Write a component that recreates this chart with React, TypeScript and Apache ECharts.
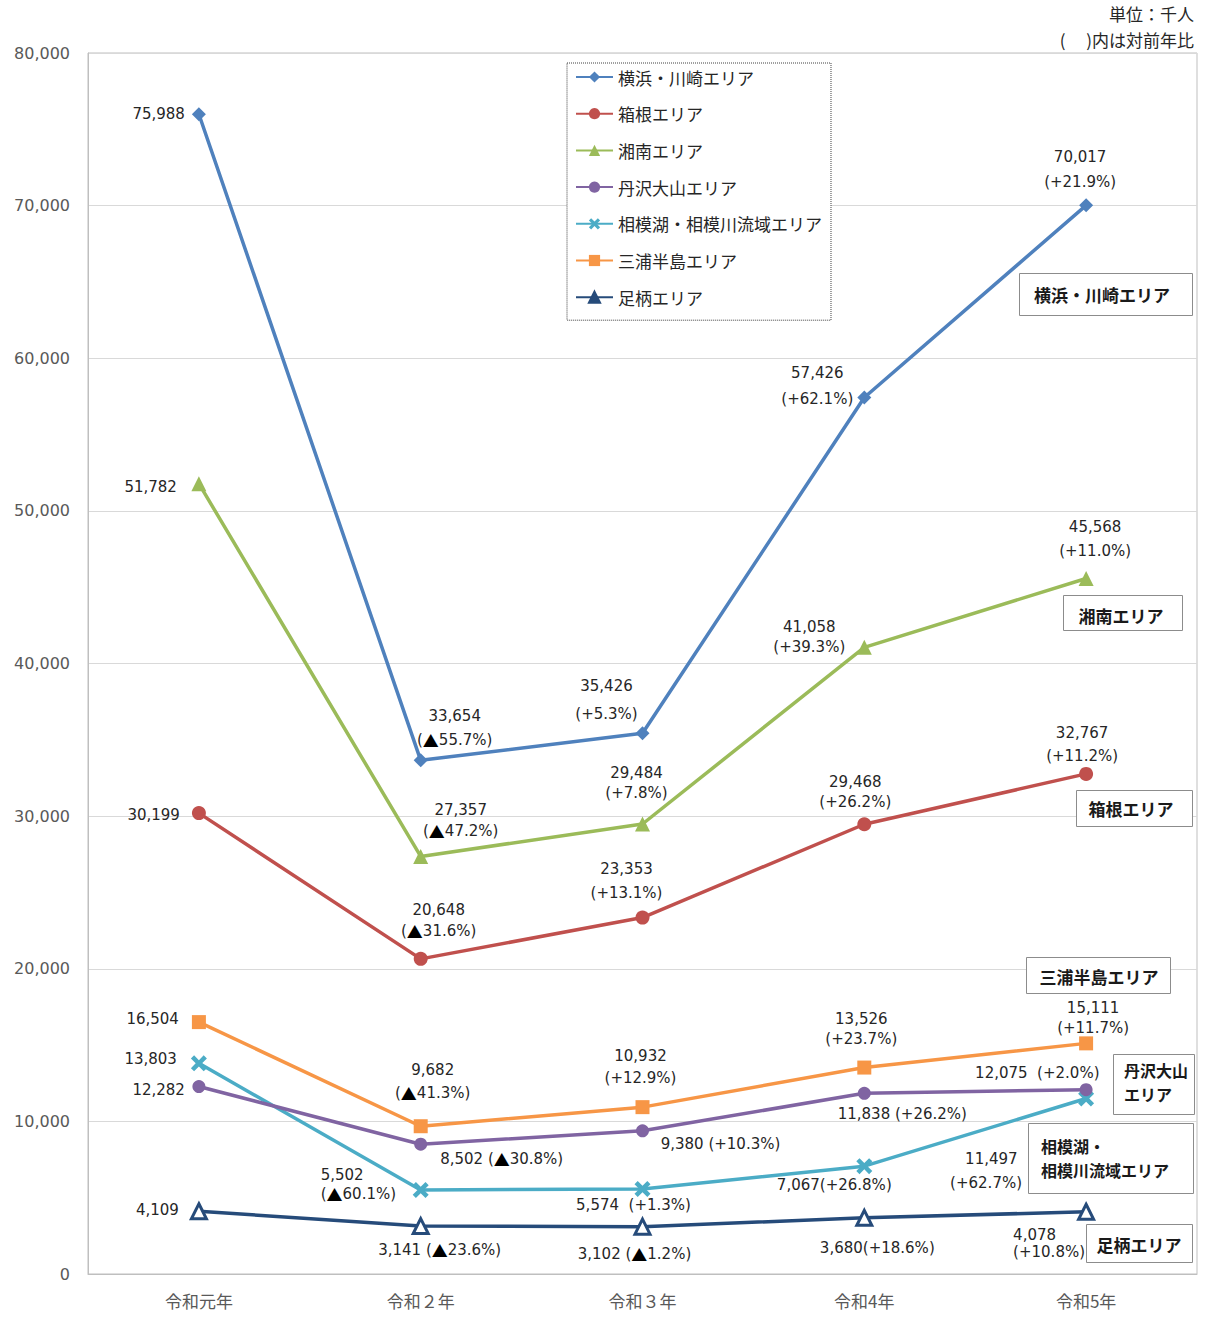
import React, { useEffect, useRef } from "react";
import * as echarts from "echarts";

const categories = ["令和元年", "令和２年", "令和３年", "令和4年", "令和5年"];
const yTicks = [0, 10000, 20000, 30000, 40000, 50000, 60000, 70000, 80000];

const seriesNames = [
  "横浜・川崎エリア",
  "箱根エリア",
  "湘南エリア",
  "丹沢大山エリア",
  "相模湖・相模川流域エリア",
  "三浦半島エリア",
  "足柄エリア",
];

const yokohama = [75988, 33654, 35426, 57426, 70017];
const hakone = [30199, 20648, 23353, 29468, 32767];
const shonan = [51782, 27357, 29484, 41058, 45568];
const tanzawa = [12282, 8502, 9380, 11838, 12075];
const sagamiko = [13803, 5502, 5574, 7067, 11497];
const miura = [16504, 9682, 10932, 13526, 15111];
const ashigara = [4109, 3141, 3102, 3680, 4078];

const yokohamaYoY = ["", "▲55.7%", "+5.3%", "+62.1%", "+21.9%"];
const hakoneYoY = ["", "▲31.6%", "+13.1%", "+26.2%", "+11.2%"];
const shonanYoY = ["", "▲47.2%", "+7.8%", "+39.3%", "+11.0%"];
const tanzawaYoY = ["", "▲30.8%", "+10.3%", "+26.2%", "+2.0%"];
const sagamikoYoY = ["", "▲60.1%", "+1.3%", "+26.8%", "+62.7%"];
const miuraYoY = ["", "▲41.3%", "+12.9%", "+23.7%", "+11.7%"];
const ashigaraYoY = ["", "▲23.6%", "▲1.2%", "+18.6%", "+10.8%"];

const unitLines = ["単位：千人", "(\u3000 )内は対前年比"];

// label layout (style only): [dx, dy, align, lineHeight, separator, firstLineIndent]
type LL = [number, number, string, number, string, number?];
const layouts: LL[][] = [
  [[-14, 0, "right", 20, ""], [34, -32, "center", 24, "\n"], [-36, -33, "center", 28, "\n"], [-47, -12, "center", 26, "\n"], [-6, -36, "center", 25, "\n"]],
  [[-19, 2, "right", 20, ""], [18, -38, "center", 21, "\n"], [-16, -37, "center", 24, "\n"], [-9, -32, "center", 20, "\n"], [-4, -29, "center", 23, "\n"]],
  [[-22, 3, "right", 20, ""], [40, -36, "center", 21, "\n"], [-6, -41, "center", 20, "\n"], [-55, -10, "center", 20, "\n"], [9, -40, "center", 24, "\n"]],
  [[-14, 3, "right", 20, ""], [81, 15, "center", 20, " "], [78, 13, "center", 20, " "], [38, 21, "center", 20, " "], [-111, -17, "left", 20, "  "]],
  [[-22, -4, "right", 20, ""], [-100, -6, "left", 19, "\n"], [-9, 16, "center", 20, "  "], [-30, 19, "center", 20, ""], [-136, 72, "left", 24, "\n", 15]],
  [[-20, -3, "right", 20, ""], [12, -45, "center", 23, "\n"], [-2, -40, "center", 22, "\n"], [-3, -39, "center", 20, "\n"], [7, -25, "center", 20, "\n"]],
  [[-20, -1, "right", 20, ""], [19, 24, "center", 20, " "], [-8, 27, "center", 20, " "], [13, 30, "center", 20, ""], [-73, 32, "left", 17, "\n"]],
];

const seriesValues = [yokohama, hakone, shonan, tanzawa, sagamiko, miura, ashigara];
const seriesYoY = [yokohamaYoY, hakoneYoY, shonanYoY, tanzawaYoY, sagamikoYoY, miuraYoY, ashigaraYoY];
const colors = ["#4f81bd", "#c0504d", "#9bbb59", "#8064a2", "#4bacc6", "#f79646", "#264b7a"];
const crossPath =
  "path://M0,2 L2,0 L5,3 L8,0 L10,2 L7,5 L10,8 L8,10 L5,7 L2,10 L0,8 L3,5 Z";
const symbols = ["diamond", "circle", "triangle", "circle", crossPath, "rect", "triangle"];
const symbolSizes = [14, 14, 15, 13, 16, 14, 15];

// area name boxes: [text, rect x, y, w, h, text x, first line y, align]
const nameBoxes: [string, number, number, number, number, number, number, string][] = [
  ["横浜・川崎エリア", 1019, 273, 173, 42, 1102, 294, "center"],
  ["湘南エリア", 1063, 595, 119, 35, 1121, 615, "center"],
  ["箱根エリア", 1076, 790, 116, 36, 1131, 808, "center"],
  ["三浦半島エリア", 1026, 957, 144, 36, 1099, 976, "center"],
  ["丹沢大山\nエリア", 1113, 1054, 81, 60, 1124, 1070, "left"],
  ["相模湖・\n相模川流域エリア", 1028, 1123, 165, 70, 1041, 1146, "left"],
  ["足柄エリア", 1086, 1224, 106, 38, 1139, 1244, "center"],
];
const boxLineGap = 24;

const NUM_FONT = '"DejaVu Sans", "Noto Sans CJK JP", sans-serif';
const JP_FONT = '"Noto Sans CJK JP", sans-serif';

const fmt = (v: number) => v.toLocaleString("en-US");

export default function App() {
  const ref = useRef<HTMLDivElement>(null);
  useEffect(() => {
    document.body.style.margin = "0";
    if (!ref.current) return;
    const chart = echarts.init(ref.current, null, { renderer: "svg" });

    const series = seriesNames.map((name, si) => ({
      name,
      type: "line",
      symbol: symbols[si],
      symbolSize: symbolSizes[si],
      lineStyle: { width: 3.5, color: colors[si] },
      itemStyle:
        si === 6
          ? { color: "#ffffff", borderColor: colors[si], borderWidth: 3 }
          : { color: colors[si], borderWidth: 0 },
      emphasis: { disabled: true },
      z: 2 + (7 - si),
      data: seriesValues[si].map((v, i) => {
        const [dx, dy, align, lh, sep, indent] = layouts[si][i];
        const yoy = seriesYoY[si][i];
        const first = indent ? "{p|" + fmt(v) + "}" : fmt(v);
        const raw = first + (yoy ? sep + "(" + yoy + ")" : "");
        const text = raw.replace("▲", "{t|▲}");
        return {
          value: v,
          label: {
            show: true,
            position: "inside",
            offset: [dx, dy],
            align,
            verticalAlign: "middle",
            lineHeight: lh,
            fontSize: 15,
            fontFamily: NUM_FONT,
            color: "#262626",
            rich: {
              t: {
                fontFamily: JP_FONT,
                fontSize: 16,
                lineHeight: lh,
                color: "#000000",
              },
              p: {
                fontFamily: NUM_FONT,
                fontSize: 15,
                lineHeight: lh,
                color: "#262626",
                padding: [0, 0, 0, indent || 0],
              },
            },
            formatter: () => text,
          },
        };
      }),
    }));

    const graphic: any[] = [];
    unitLines.forEach((t, i) => {
      graphic.push({
        type: "text",
        x: 1194,
        y: 13 + i * 26,
        z: 20,
        style: {
          text: t,
          fill: "#262626",
          font: '17px "Noto Sans CJK JP"',
          align: "right",
          verticalAlign: "middle",
        },
      });
    });
    nameBoxes.forEach(([t, rx, ry, rw, rh, tx, ty, al]) => {
      graphic.push({
        type: "rect",
        z: 20,
        shape: { x: rx + 0.5, y: ry + 0.5, width: rw, height: rh },
        style: { fill: "#ffffff", stroke: "#8c8c8c", lineWidth: 1 },
      });
      const lines = t.split("\n");
      lines.forEach((line, li) => {
        graphic.push({
          type: "text",
          z: 21,
          x: tx,
          y: ty + li * boxLineGap,
          style: {
            text: line,
            fill: "#1a1a1a",
            font: lines.length > 1 ? 'bold 16px "Noto Sans CJK JP"' : 'bold 17px "Noto Sans CJK JP"',
            align: al,
            verticalAlign: "middle",
          },
        });
      });
    });

    chart.setOption({
      animation: false,
      backgroundColor: "#ffffff",
      color: colors,
      grid: {
        left: 88,
        right: 9,
        top: 53,
        bottom: 44,
        show: true,
        borderColor: "#bfbfbf",
        borderWidth: 1,
        containLabel: false,
        outerBoundsMode: "none",
      },
      legend: {
        orient: "vertical",
        left: 567,
        top: 63,
        padding: [4, 9, 13, 8],
        itemWidth: 37,
        itemHeight: 14,
        itemGap: 16.7,
        borderColor: "#404040",
        borderWidth: 1,
        borderType: "dotted",
        backgroundColor: "#ffffff",
        textStyle: {
          fontSize: 17,
          fontFamily: JP_FONT,
          color: "#262626",
          lineHeight: 20,
        },
        data: seriesNames.map((n, i) =>
          i === 6 ? { name: n, itemStyle: { color: colors[6], borderColor: colors[6] } } : { name: n }
        ),
      },
      xAxis: {
        type: "category",
        data: categories,
        boundaryGap: true,
        axisTick: { show: false },
        axisLine: { lineStyle: { color: "#bfbfbf" } },
        axisLabel: {
          color: "#595959",
          fontSize: 17,
          fontFamily: JP_FONT,
          margin: 18,
        },
      },
      yAxis: {
        type: "value",
        min: yTicks[0],
        max: yTicks[yTicks.length - 1],
        interval: yTicks[1] - yTicks[0],
        axisLine: { show: true, lineStyle: { color: "#bfbfbf" } },
        axisTick: { show: false },
        splitLine: { lineStyle: { color: "#d9d9d9" } },
        axisLabel: {
          color: "#595959",
          fontSize: 16,
          fontFamily: NUM_FONT,
          margin: 18,
          formatter: (v: number) => fmt(v),
        },
      },
      graphic,
      series,
    });
    return () => chart.dispose();
  }, []);
  return <div ref={ref} style={{ width: 1206, height: 1318 }} />;
}
